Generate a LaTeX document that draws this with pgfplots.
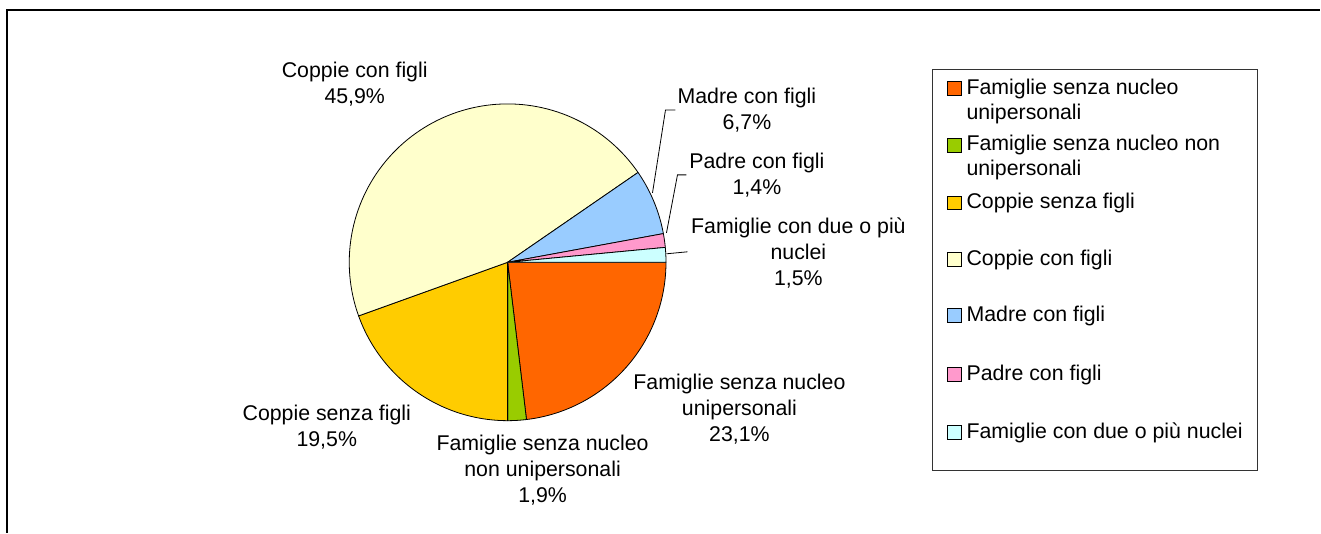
\documentclass[border=0pt]{standalone}
\usepackage{pgfplots}
\pgfplotsset{compat=1.18}
\usepackage{pgfplotstable}
\usepackage{fontspec}
\setmainfont{Liberation Sans}

\definecolor{slice0}{HTML}{FF6600}
\definecolor{slice1}{HTML}{99CC00}
\definecolor{slice2}{HTML}{FFCC00}
\definecolor{slice3}{HTML}{FFFFCC}
\definecolor{slice4}{HTML}{99CCFF}
\definecolor{slice5}{HTML}{FF99CC}
\definecolor{slice6}{HTML}{CCFFFF}

\newcommand\ang[2]{\csname s#1#2\endcsname}

\pgfplotstableread{
val
23.1
1.9
19.5
45.9
6.7
1.4
1.5
}\piedata

\gdef\cumsum{0}%
\pgfplotsforeachungrouped \i in {0,...,6}{%
  \pgfplotstablegetelem{\i}{val}\of\piedata%
  \pgfmathsetmacro\tmpa{-3.6*\cumsum}%
  \pgfmathsetmacro\tmpc{\cumsum+\pgfplotsretval}%
  \pgfmathsetmacro\tmpb{-3.6*\tmpc}%
  \expandafter\xdef\csname sA\i\endcsname{\tmpa}%
  \expandafter\xdef\csname sB\i\endcsname{\tmpb}%
  \xdef\cumsum{\tmpc}%
}%

% legend entry: baseline (px from top), colour, text
\newcommand\legsq[2]{%
  \draw[fill=#2, draw=black, line width=0.5pt] (axis cs:948,{533-#1+13}) rectangle (axis cs:962,{533-#1-1});%
}
\newcommand\legtx[2]{%
  \node[anchor=base west, inner sep=0pt, font=\fontsize{16}{18.75}\selectfont] at (axis cs:967,{533-#1}) {#2};%
}

\begin{document}%
\begin{tikzpicture}
\begin{axis}[
  width=990.75pt, height=399.75pt, scale only axis,
  xmin=0, xmax=1321, ymin=0, ymax=533,
  hide axis, clip=false,
]
\path (axis cs:0,0) rectangle (axis cs:1321,533);

\pgfplotsinvokeforeach{0,...,6}{
  \addplot[fill=slice#1, draw=black, line width=0.6pt, line join=round,
    domain=\ang{B}{#1}:\ang{A}{#1}, samples=90]
    ({508+158.5*cos(x)}, {270.5+158.5*sin(x)}) -- (axis cs:508,270.5) -- cycle;
}

% frame
\draw[line width=1.5pt, line join=miter] (axis cs:7,0) -- (axis cs:7,523) -- (axis cs:1321,523);

% leader lines
\draw[line width=0.6pt] (axis cs:653,340) -- (axis cs:666,423) -- (axis cs:676,423);
\draw[line width=0.6pt] (axis cs:667,300) -- (axis cs:678,358) -- (axis cs:687,358);
\draw[line width=0.6pt] (axis cs:667,279) -- (axis cs:688,281);

% labels
\begin{scope}[every node/.style={align=center, inner sep=0pt, font=\fontsize{16}{19.5}\selectfont}]
\node at (axis cs:355,448.5) {Coppie con figli\\45,9\%};
\node at (axis cs:747.5,423) {Madre con figli\\6,7\%};
\node at (axis cs:757.5,358) {Padre con figli\\1,4\%};
\node at (axis cs:799,279.5) {Famiglie con due o più\\nuclei\\1,5\%};
\node at (axis cs:740,123.5) {Famiglie senza nucleo\\unipersonali\\23,1\%};
\node at (axis cs:543,62.5) {Famiglie senza nucleo\\non unipersonali\\1,9\%};
\node at (axis cs:327,105.5) {Coppie senza figli\\19,5\%};
\end{scope}

% legend
\draw[draw=black!80, line width=0.75pt] (axis cs:933,463) rectangle (axis cs:1258,62);
\legsq{94.5}{slice0}
\legtx{94.5}{Famiglie senza nucleo}
\legtx{119.5}{unipersonali}
\legsq{151}{slice1}
\legtx{151}{Famiglie senza nucleo non}
\legtx{176}{unipersonali}
\legsq{209}{slice2}
\legtx{209}{Coppie senza figli}
\legsq{265.5}{slice3}
\legtx{265.5}{Coppie con figli}
\legsq{322}{slice4}
\legtx{322}{Madre con figli}
\legsq{380.5}{slice5}
\legtx{380.5}{Padre con figli}
\legsq{439}{slice6}
\legtx{439}{Famiglie con due o più nuclei}
\end{axis}
\end{tikzpicture}%
\end{document}
